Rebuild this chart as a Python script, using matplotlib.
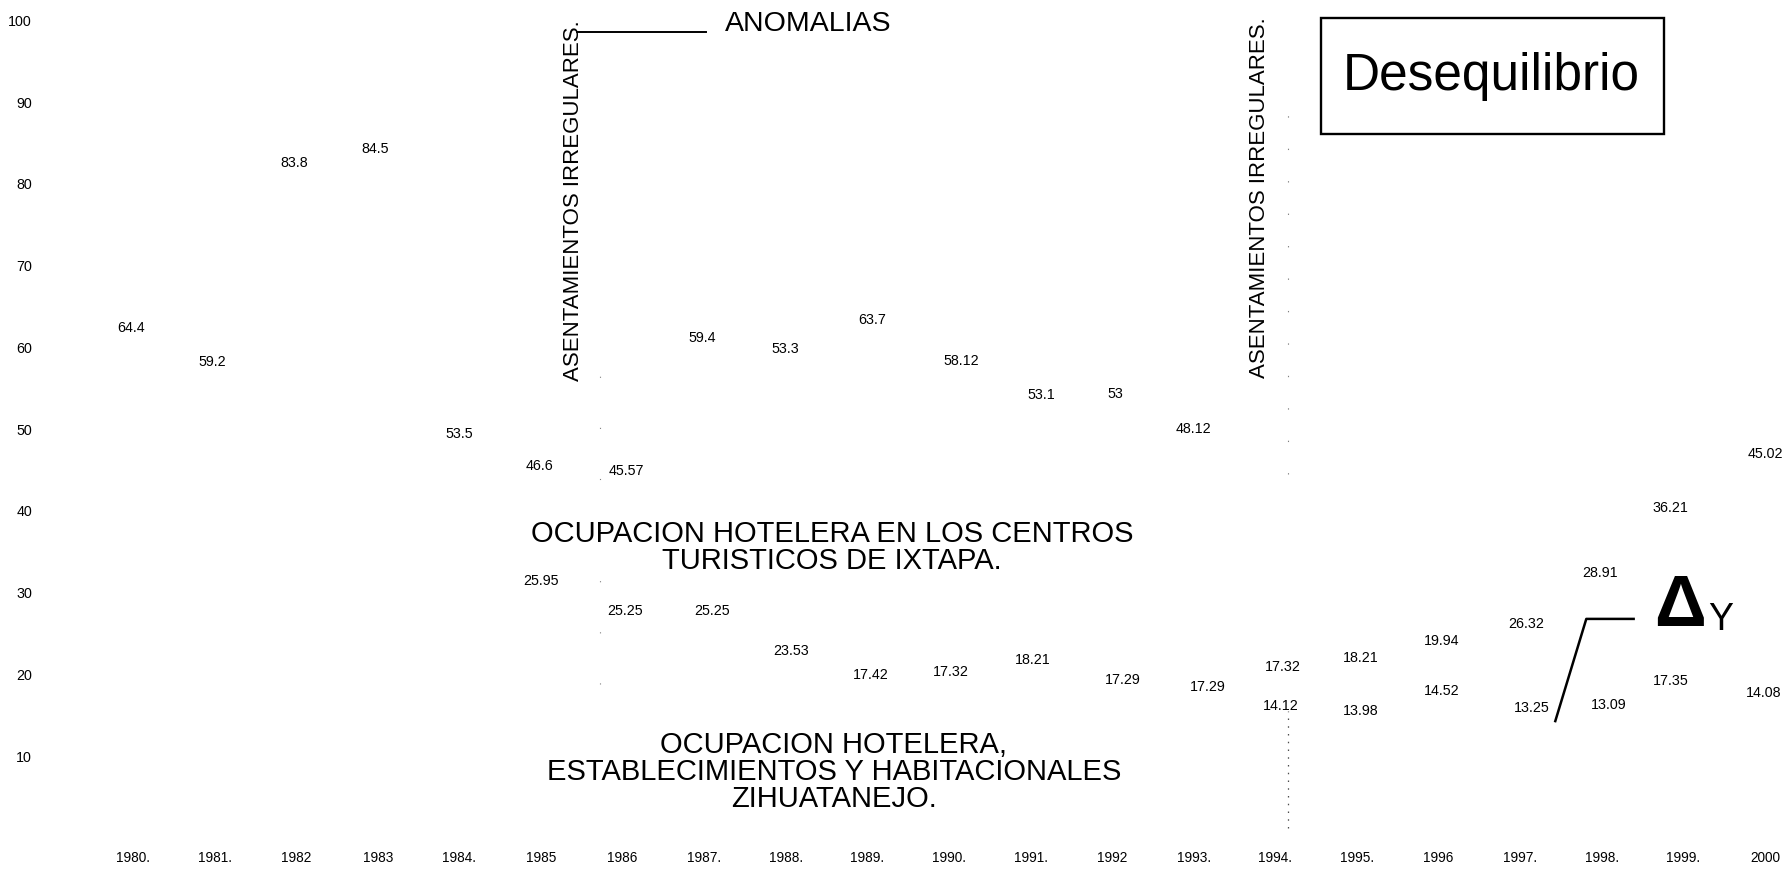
import matplotlib
matplotlib.use("Agg")
import matplotlib.pyplot as plt
from matplotlib import font_manager
from matplotlib.patches import Rectangle

# ---- data -------------------------------------------------------------
years = list(range(1980, 2001))
year_labels = ["1980.", "1981.", "1982", "1983", "1984.", "1985", "1986",
               "1987.", "1988.", "1989.", "1990.", "1991.", "1992", "1993.",
               "1994.", "1995.", "1996", "1997.", "1998.", "1999.", "2000"]

# Hotel occupancy, Ixtapa tourist centres (%)
ixtapa_years = list(range(1980, 2001))
ixtapa_values = [64.4, 59.2, 83.8, 84.5, 53.5, 46.6, 45.57, 59.4, 53.3, 63.7,
                 58.12, 53.1, 53, 48.12, 17.32, 18.21, 19.94, 26.32, 28.91,
                 36.21, 45.02]

# Hotel occupancy, Zihuatanejo establishments and housing (%)
zihua_years = list(range(1985, 2001))
zihua_values = [25.95, 25.25, 25.25, 23.53, 17.42, 17.32, 18.21, 17.29, 17.29,
                14.12, 13.98, 14.52, 13.25, 13.09, 17.35, 14.08]

y_ticks = [10, 20, 30, 40, 50, 60, 70, 80, 90, 100]

# label nudges (points) so the value labels do not collide
ixtapa_nudge = [(-1.6, -11.8), (-1.6, -5.8), (-1.6, -7.1), (-1.6, -1.4),
                (0, -23.9), (-0.8, -6.2), (2.5, -4.3), (-1.2, 10.3),
                (0, 38), (3.3, -2.0), (9, 1.4), (7.4, 6.3), (2.5, 7.8),
                (0, 11.1), (5.7, 21), (2.5, 22.3), (2.5, 24.4), (4.1, -0.8),
                (-1.6, 20.8), (-9, 24.6), (0, 11.3)]
zihua_nudge = [(0, 32.6), (1.6, 14.5), (5.7, 14.5), (4.1, -4.0), (2.5, 14.7),
               (1.6, 17.7), (1.6, 20.7), (7.4, 12.1), (9.8, 7.2), (4.1, 12),
               (2.5, 9.5), (2.5, 20.3), (8.2, 15.4), (4.9, 18.9), (-9, 11),
               (-1.0, 21.2)]

# ---- fonts ------------------------------------------------------------
installed = {f.name for f in font_manager.fontManager.ttflist}
REG = "Liberation Sans"
NARROW = "Liberation Sans Narrow" if "Liberation Sans Narrow" in installed else REG
narrow_ok = NARROW != REG
plt.rcParams["font.family"] = [REG, "DejaVu Sans"]

# ---- figure -----------------------------------------------------------
fig = plt.figure(figsize=(17.85, 8.71), dpi=100)
ax = fig.add_axes([45 / 1785, 33 / 871, 1740 / 1785, 828 / 871])
ax.set_xlim(1978.922, 2000.245)
ax.set_ylim(0, 101.28)
for s in ax.spines.values():
    s.set_visible(False)

ax.set_yticks(y_ticks)
ax.set_yticklabels([str(t) for t in y_ticks], fontsize=10.3)
ax.set_xticks(years)
ax.set_xticklabels(year_labels, fontsize=9.8)
ax.tick_params(axis="y", length=0, pad=9.4)
ax.tick_params(axis="x", length=0, pad=9)

# value labels
for x, v, (dx, dy) in zip(ixtapa_years, ixtapa_values, ixtapa_nudge):
    ax.annotate(f"{v:g}", (x, v), xytext=(dx, dy), textcoords="offset points",
                ha="center", va="center", fontsize=10.3, annotation_clip=False)
for x, v, (dx, dy) in zip(zihua_years, zihua_values, zihua_nudge):
    ax.annotate(f"{v:g}", (x, v), xytext=(dx, dy), textcoords="offset points",
                ha="center", va="center", fontsize=10.3, annotation_clip=False)

# irregular-settlement markers
big_narrow = 19.5 if narrow_ok else 16
ax.text(1985.40, 78.0, "ASENTAMIENTOS IRREGULARES.", rotation=90,
        ha="center", va="center", fontsize=big_narrow, family=NARROW)
ax.text(1993.81, 78.3, "ASENTAMIENTOS IRREGULARES.", rotation=90,
        ha="center", va="center", fontsize=big_narrow, family=NARROW)

# faint dotted guides at the settlement years
ax.plot([1994.15, 1994.15], [1.2, 15.5], color="0.3", lw=0.9,
        linestyle=(0, (1.2, 5)))
ax.plot([1994.15, 1994.15], [44.5, 90], color="0.5", lw=0.8,
        linestyle=(0, (1.2, 28)))
ax.plot([1985.72, 1985.72], [18.8, 62], color="0.5", lw=0.8,
        linestyle=(0, (1, 45)))

# ANOMALIAS call-out
ax.plot([1985.44, 1987.02], [98.6, 98.6], color="black", lw=1.4)
ax.text(1987.25, 99.6, "ANOMALIAS", ha="left", va="center", fontsize=20.5)

# Desequilibrio box
ax.add_patch(Rectangle((1994.56, 86.1), 1998.76 - 1994.56, 100.3 - 86.1,
                       fill=False, lw=1.7, edgecolor="black", clip_on=False))
ax.text(1996.64, 93.1, "Desequilibrio", ha="center", va="center", fontsize=37)

# series titles
title_size = 25.5 if narrow_ok else 21
ax.text(1988.57, 35.5, "OCUPACION HOTELERA EN LOS CENTROS\nTURISTICOS DE IXTAPA.",
        ha="center", va="center", multialignment="center", linespacing=0.95,
        fontsize=title_size, family=NARROW)
ax.text(1988.59, 8.07,
        "OCUPACION HOTELERA,\nESTABLECIMIENTOS Y HABITACIONALES\nZIHUATANEJO.",
        ha="center", va="center", multialignment="center", linespacing=0.95,
        fontsize=title_size, family=NARROW)

# delta-Y call-out
ax.plot([1997.43, 1997.81, 1998.39], [14.3, 26.8, 26.8], color="black", lw=1.8)
ax.text(1998.96, 28.3, "\u0394", ha="center", va="center", fontsize=52,
        fontweight="bold", family=[NARROW, REG, "DejaVu Sans"])
ax.text(1999.46, 26.7, "Y", ha="center", va="center",
        fontsize=33 if narrow_ok else 27, family=NARROW)

fig.savefig("out.png", dpi=100, facecolor="white")
